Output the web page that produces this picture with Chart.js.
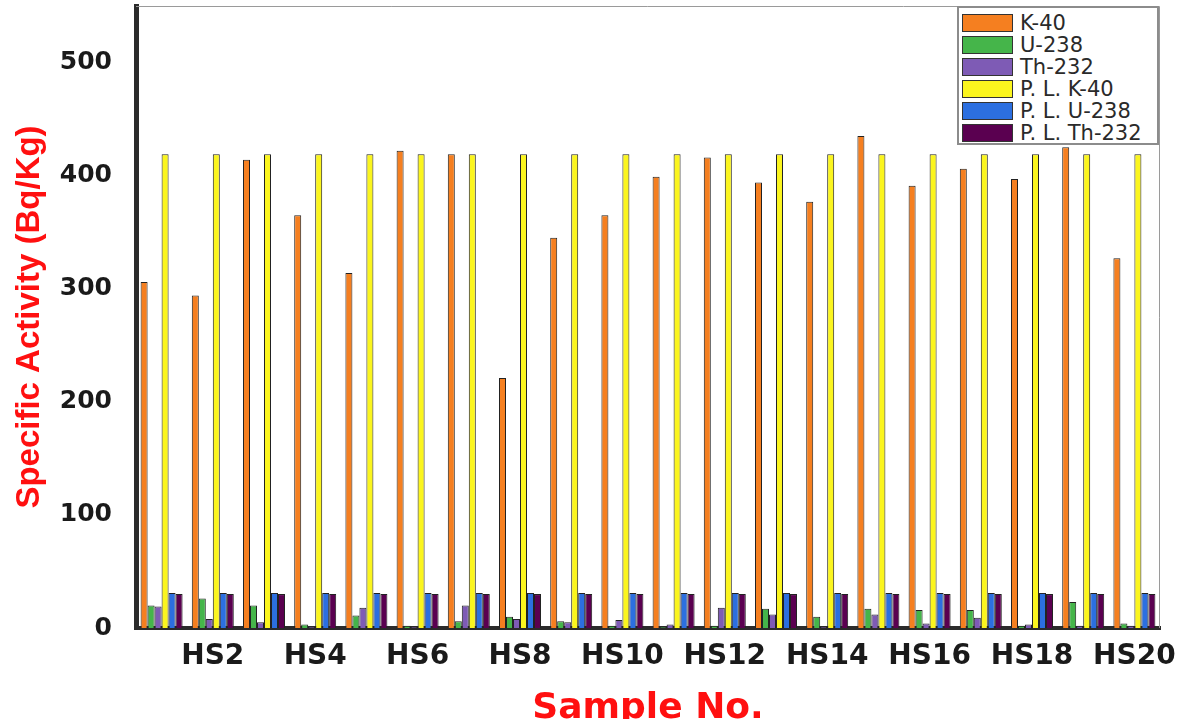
<!DOCTYPE html>
<html>
<head>
<meta charset="utf-8">
<script src="https://cdn.jsdelivr.net/npm/chart.js@4.4.1/dist/chart.umd.min.js"></script>
<style>
  body { margin: 0; background: #fff; }
  #wrap { position: relative; width: 1180px; height: 719px; }
  #legend {
    position: absolute; left: 957px; top: 6px; width: 202px; height: 139px;
    border: 2px solid #8c8c8c; background: #fff; box-sizing: border-box;
    padding: 4px 0 0 3px;
  }
  #legend .row { display: flex; align-items: center; height: 22px; }
  #legend .sw { width: 51px; height: 18px; border: 1.5px solid #333; box-sizing: border-box; }
  #legend .tx { margin-left: 7px; font: 21px 'DejaVu Sans', sans-serif; color: #2a2a2a; white-space: nowrap; }
</style>
</head>
<body>
<div id="wrap">
  <canvas id="activityChart"></canvas>
  <div id="legend"></div>
</div>
<script>
'use strict';

const samples = ['HS1', 'HS2', 'HS3', 'HS4', 'HS5', 'HS6', 'HS7', 'HS8', 'HS9', 'HS10',
  'HS11', 'HS12', 'HS13', 'HS14', 'HS15', 'HS16', 'HS17', 'HS18', 'HS19', 'HS20'];

const k40 = [306, 294, 414, 365, 314, 422, 419, 221, 345, 365, 399, 416, 394, 377, 435, 391, 406, 397, 425, 327];
const u238 = [20, 26, 20, 3, 11, 2, 6, 10, 6, 2, 1, 2, 17, 10, 17, 16, 16, 2, 23, 4];
const th232 = [19, 8, 5, 1, 18, 1, 20, 8, 5, 7, 3, 18, 12, 1, 12, 4, 9, 3, 2, 2];
const plK40 = [419, 419, 419, 419, 419, 419, 419, 419, 419, 419, 419, 419, 419, 419, 419, 419, 419, 419, 419, 419];
const plU238 = [31, 31, 31, 31, 31, 31, 31, 31, 31, 31, 31, 31, 31, 31, 31, 31, 31, 31, 31, 31];
const plTh232 = [30, 30, 30, 30, 30, 30, 30, 30, 30, 30, 30, 30, 30, 30, 30, 30, 30, 30, 30, 30];

const yTicks = [0, 100, 200, 300, 400, 500];

const seriesColors = {
  k40: '#f57f20',
  u238: '#45b54a',
  th232: '#7e5bb5',
  plK40: '#fbf51e',
  plU238: '#2c6fe0',
  plTh232: '#5a0050'
};

// leyenda en HTML, sacada de los datasets
const htmlLegend = {
  id: 'htmlLegend',
  afterUpdate(chart) {
    const box = document.getElementById('legend');
    box.innerHTML = '';
    chart.data.datasets.forEach(ds => {
      const row = document.createElement('div');
      row.className = 'row';
      const sw = document.createElement('span');
      sw.className = 'sw';
      sw.style.background = ds.backgroundColor;
      const tx = document.createElement('span');
      tx.className = 'tx';
      tx.textContent = ds.label;
      row.appendChild(sw);
      row.appendChild(tx);
      box.appendChild(row);
    });
  }
};

// marco fino arriba y a la derecha
const frame = {
  id: 'frame',
  beforeDatasetsDraw(chart) {
    const { ctx, chartArea: a } = chart;
    ctx.save();
    ctx.strokeStyle = '#9a9a9a';
    ctx.lineWidth = 1;
    ctx.beginPath();
    ctx.moveTo(a.left, a.top + 0.5);
    ctx.lineTo(a.right - 0.5, a.top + 0.5);
    ctx.lineTo(a.right - 0.5, a.bottom);
    ctx.stroke();
    ctx.restore();
  }
};

function bars(label, data, color) {
  return {
    label: label,
    data: data,
    backgroundColor: color,
    borderColor: '#222',
    borderWidth: 1,
    categoryPercentage: 0.82,
    barPercentage: 1.0
  };
}

const ctx = document.getElementById('activityChart').getContext('2d');
new Chart(ctx, {
  type: 'bar',
  data: {
    labels: samples,
    datasets: [
      bars('K-40', k40, seriesColors.k40),
      bars('U-238', u238, seriesColors.u238),
      bars('Th-232', th232, seriesColors.th232),
      bars('P. L. K-40', plK40, seriesColors.plK40),
      bars('P. L. U-238', plU238, seriesColors.plU238),
      bars('P. L. Th-232', plTh232, seriesColors.plTh232)
    ]
  },
  plugins: [htmlLegend, frame],
  options: {
    responsive: true,
    maintainAspectRatio: false,
    animation: false,
    layout: { padding: { top: 6, right: 20, left: 0, bottom: 0 } },
    plugins: {
      legend: { display: false },
      tooltip: { enabled: false }
    },
    scales: {
      x: {
        grid: { display: false },
        border: { display: true, color: '#2b2b2b', width: 4 },
        ticks: {
          autoSkip: false,
          maxRotation: 0,
          padding: 4,
          color: '#1a1a1a',
          font: { family: 'DejaVu Sans', weight: 'bold', size: 28 },
          callback: function (val, index) {
            return index % 2 === 1 ? this.getLabelForValue(val) : '';
          }
        },
        title: {
          display: true,
          text: 'Sample No.',
          color: '#ff1010',
          font: { family: 'DejaVu Sans', weight: 'bold', size: 36, lineHeight: 0.6 },
          padding: 0
        },
        afterFit: function (scale) {
          scale.height = 91;
          scale.paddingLeft = 0;
          scale.paddingRight = 0;
        }
      },
      y: {
        min: 0,
        max: 550,
        grid: { display: false },
        border: { display: true, color: '#2b2b2b', width: 5 },
        afterBuildTicks: function (scale) {
          scale.ticks = yTicks.map(v => ({ value: v }));
        },
        ticks: {
          padding: 16,
          color: '#1a1a1a',
          font: { family: 'DejaVu Sans', weight: 'bold', size: 25 }
        },
        title: {
          display: true,
          text: 'Specific Activity (Bq/Kg)',
          color: '#ff1010',
          font: { family: 'Liberation Sans', weight: 'bold', size: 33 },
          padding: { top: 10 }
        },
        afterFit: function (scale) {
          scale.width = 136;
          scale.paddingTop = 0;
          scale.paddingBottom = 0;
        }
      }
    }
  }
});
</script>
</body>
</html>
